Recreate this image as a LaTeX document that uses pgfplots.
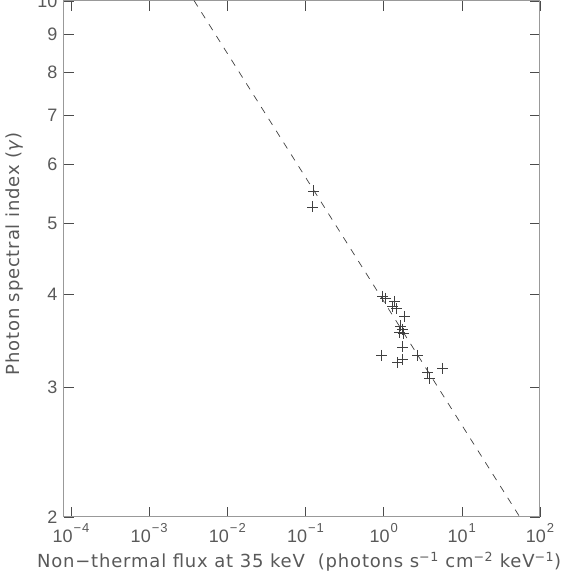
\documentclass[border=0pt]{standalone}
\usepackage{fontspec}
\setmainfont{DejaVu Sans}
\newfontfamily\tickfont{Liberation Sans}
\usepackage{pgfplots}
\pgfplotsset{compat=1.18}
\newcommand\sx[1]{\kern1pt\raisebox{10pt}{\fontsize{13}{13}\selectfont\addfontfeatures{LetterSpace=8}#1}}
\begin{document}
\begin{tikzpicture}
\begin{axis}[
 scale only axis, width=476pt, height=516pt,
 xmode=log, ymode=log,
 xmin=8.13e-5, xmax=100, ymin=2, ymax=10,
 xtick={1e-4,1e-3,1e-2,1e-1,1,10,100},
 xticklabels={10\sx{−4},10\sx{−3},10\sx{−2},10\sx{−1},10\sx{0},10\sx{1},10\sx{2}},
 ytick={2,3,4,5,6,7,8,9,10},
 yticklabels={2,3,4,5,6,7,8,9,10},
 xminorticks=false, yminorticks=false,
 major tick length=10pt,
 tick style={black!70, line width=0.6pt},
 axis line style={black!40, line width=1pt},
 tick label style={font=\tickfont\fontsize{18}{18}\selectfont, text=black!65},
 xticklabel style={anchor=base, yshift=-26pt},
 yticklabel style={xshift=-3pt},
 label style={font=\addfontfeatures{LetterSpace=4.5}\fontsize{18}{22}\selectfont, text=black!65},
 xlabel={Non−thermal flux at 35 keV\ \ (photons s\textsuperscript{−1} cm\textsuperscript{−2} keV\textsuperscript{−1})},
 ylabel={Photon spectral index (\textit{γ})},
 xlabel style={at={(rel axis cs:0.494,-0.0988)}, anchor=base},
 ylabel style={at={(rel axis cs:-0.0945,0.51)}, anchor=base},
 clip=true,
]
\addplot[black!75, line width=0.7pt, dash pattern=on 7pt off 7pt] coordinates {(0.001,12.50) (100,1.810)};
\addplot[only marks, mark=+, mark size=5.5pt, black!75, line width=0.7pt] coordinates {
(0.127,5.53) (0.123,5.26)
(0.97,3.98) (1.06,3.96) (1.38,3.92) (1.30,3.86) (1.47,3.83) (1.86,3.74)
(1.65,3.63) (1.75,3.59) (1.60,3.56) (1.80,3.55) (1.75,3.40)
(0.94,3.31) (1.75,3.27) (1.51,3.24) (2.73,3.31)
(3.66,3.14) (5.71,3.18) (3.89,3.08)
};
\end{axis}
\pgfresetboundingbox
\path (0,0) ++(-64pt,-56pt) rectangle ++(572pt,573pt);
\end{tikzpicture}
\end{document}
